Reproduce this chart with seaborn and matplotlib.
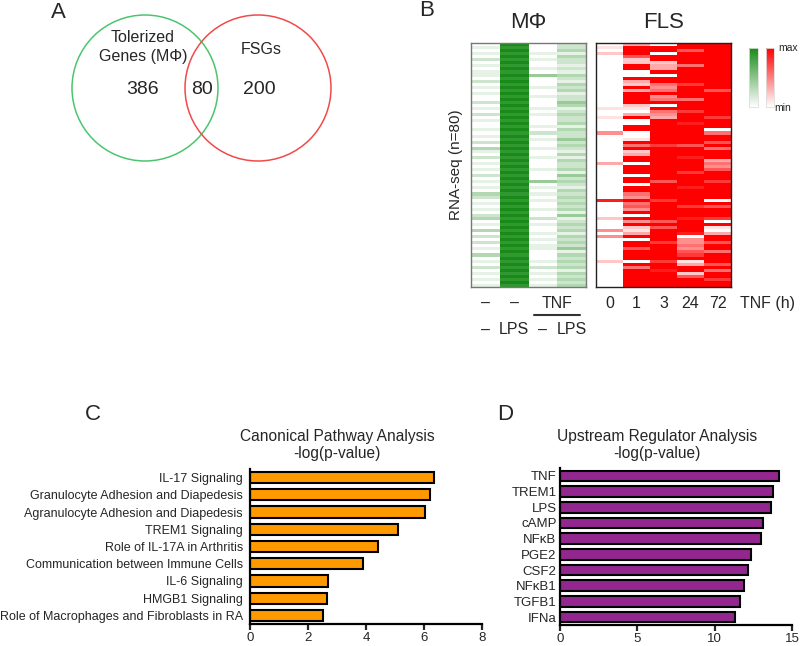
import numpy as np
import pandas as pd
import matplotlib
matplotlib.use("Agg")
import matplotlib.pyplot as plt
import seaborn as sns
from matplotlib.patches import Circle
from matplotlib.colors import LinearSegmentedColormap
from matplotlib.colorbar import ColorbarBase

# ---- data ----
# Venn (panel A)
venn_sets = ["Tolerized\nGenes (M\u03a6)", "FSGs"]
venn_counts = [386, 80, 200]   # only MΦ, overlap, only FSGs

# Heatmaps (panel B): one string per column, one digit per gene row (0=min, 9=max)
mph_cols = ["\u2013\n\u2013", "\u2013\nLPS", "TNF\n\u2013", "TNF\nLPS"]
mph_rows = [
    "0101020101" "1020101002" "0102010010" "1020310201" "0102010103" "2010102301" "0302020103" "0102010101",
    "9898989898" "9898989898" "9898989898" "9898989898" "9898989898" "9898989898" "9898989898" "9898989898",
    "0001010010" "4000100100" "0101000102" "0100100100" "0100040101" "0100100201" "0010101100" "0102010101",
    "2231322121" "3213231224" "3123223132" "2423213132" "2314232132" "3232314123" "2313232413" "2323132323",
]
fls_hours = ["0", "1", "3", "24", "72"]
fls_rows = [
    "0102000000" "0000000000" "0100100004" "0000000003" "0000000000" "0800000200" "0404000000" "0200000000",
    "3999622990" "0932939999" "2103900990" "0195923990" "9990990995" "4956490949" "2139099699" "9095999999",
    "0990992339" "0995459459" "0954399999" "9997999999" "9999969999" "9799999969" "6999979999" "9799899999",
    "9969999599" "9997999959" "9979998999" "9996999899" "9979999899" "9997999899" "9980445467" "9139926999",
    "9999999999" "9999969999" "9999799905" "9969599935" "4699979999" "9096999709" "1039969959" "9969599799",
]

# Canonical pathways (panel C)
pathways = ["IL-17 Signaling", "Granulocyte Adhesion and Diapedesis",
            "Agranulocyte Adhesion and Diapedesis", "TREM1 Signaling",
            "Role of IL-17A in Arthritis", "Communication between Immune Cells",
            "IL-6 Signaling", "HMGB1 Signaling",
            "Role of Macrophages and Fibroblasts in RA"]
pathway_logp = [6.34, 6.21, 6.05, 5.09, 4.40, 3.89, 2.70, 2.64, 2.51]

# Upstream regulators (panel D)
regulators = ["TNF", "TREM1", "LPS", "cAMP", "NF\u03baB", "PGE2", "CSF2",
              "NF\u03baB1", "TGFB1", "IFNa"]
regulator_logp = [14.14, 13.75, 13.62, 13.12, 12.97, 12.33, 12.13, 11.90, 11.64, 11.31]

# ---- style ----
sns.set_style("white")
plt.rcParams["font.family"] = ["Liberation Sans", "DejaVu Sans"]

W, H = 800, 646
fig = plt.figure(figsize=(W / 100, H / 100), dpi=100)


def px_axes(l, t, r, b):
    return fig.add_axes([l / W, 1 - b / H, (r - l) / W, (b - t) / H])


def px_text(x, y, s, **kw):
    fig.text(x / W, 1 - y / H, s, **kw)


# ---- panel letters ----
for letter, x, y in [("A", 58, 12), ("B", 427, 11), ("C", 93, 415), ("D", 505, 415)]:
    px_text(x, y, letter, fontsize=16, ha="center", va="center")

# ---- A: Venn ----
ax_a = px_axes(0, 0, 400, 200)
ax_a.set_xlim(0, 400)
ax_a.set_ylim(200, 0)
ax_a.axis("off")
ax_a.add_patch(Circle((145, 88), 73, fill=False, ec="#4CC56E", lw=1.1))
ax_a.add_patch(Circle((258, 88), 73, fill=False, ec="#F04A4A", lw=1.1))
for k, line in enumerate(venn_sets[0].split("\n")):
    ax_a.text(143, 38 + 19 * k, line, fontsize=11.5, ha="center", va="center")
ax_a.text(261, 50, venn_sets[1], fontsize=11.5, ha="center", va="center")
for x, n in zip([143, 202, 259], venn_counts):
    ax_a.text(x, 89, str(n), fontsize=14, ha="center", va="center")

# ---- B: heatmaps ----
green = LinearSegmentedColormap.from_list("g", ["white", "#188A18"])
red = LinearSegmentedColormap.from_list("r", ["white", "#FF0000"])

mph = pd.DataFrame(np.array([[int(c) for c in s] for s in mph_rows]).T)
fls = pd.DataFrame(np.array([[int(c) for c in s] for s in fls_rows]).T, columns=fls_hours)

ax_m = px_axes(471, 43, 586, 287)
sns.heatmap(mph, cmap=green, vmin=0, vmax=9, cbar=False,
            xticklabels=False, yticklabels=False, ax=ax_m)
ax_f = px_axes(596, 43, 731, 287)
sns.heatmap(fls, cmap=red, vmin=0, vmax=9, cbar=False,
            xticklabels=False, yticklabels=False, ax=ax_f)
for ax, ec in [(ax_m, "#777777"), (ax_f, "#222222")]:
    for sp in ax.spines.values():
        sp.set_visible(True)
        sp.set_edgecolor(ec)
        sp.set_linewidth(1.0)

ax_m.text(0.5, 1.086, "M\u03a6", transform=ax_m.transAxes, fontsize=16, ha="center", va="center")
ax_f.text(0.5, 1.086, "FLS", transform=ax_f.transAxes, fontsize=16, ha="center", va="center")
ax_m.text(-0.13, 0.5, "RNA-seq (n=80)", transform=ax_m.transAxes, fontsize=11,
          rotation=90, ha="center", va="center")

tr = ax_m.get_xaxis_transform()
for i, lab in enumerate(mph_cols):
    top, bottom = lab.split("\n")
    if i < 2:
        ax_m.text(i + 0.5, -0.066, top, transform=tr, fontsize=11.5, ha="center", va="center")
    ax_m.text(i + 0.5, -0.176, bottom, transform=tr, fontsize=11.5, ha="center", va="center")
ax_m.text(3.0, -0.066, "TNF", transform=tr, fontsize=11.5, ha="center", va="center")
ax_m.plot([2.2, 3.8], [-0.115, -0.115], transform=tr, color="#333333", lw=1.5, clip_on=False)

trf = ax_f.get_xaxis_transform()
for i, lab in enumerate(fls_hours):
    ax_f.text(i + 0.5, -0.066, lab, transform=trf, fontsize=11.5, ha="center", va="center")
ax_f.text(6.37, -0.066, "TNF (h)", transform=trf, fontsize=11.5, ha="center", va="center")

# color keys
for (l, r), cmap in [((749, 758), green), ((766, 774), red)]:
    cax = px_axes(l, 48, r, 107)
    cb = ColorbarBase(cax, cmap=cmap, orientation="vertical")
    cb.set_ticks([])
    cb.outline.set_edgecolor("#dddddd")
    cb.outline.set_linewidth(0.6)
px_text(778, 48, "max", fontsize=7.5, ha="left", va="center")
px_text(774, 108, "min", fontsize=7.5, ha="left", va="center")


# ---- C / D: bar charts ----
def bar_panel(ax, names, vals, color, xmax, ticks, width, ypad, yfs):
    sns.barplot(x=vals, y=names, color=color, edgecolor="black", linewidth=1.5,
                width=width, saturation=1, ax=ax)
    ax.set_xlim(0, xmax)
    ax.set_xticks(ticks)
    ax.set_xlabel("")
    ax.set_ylabel("")
    sns.despine(ax=ax)
    for s in ["left", "bottom"]:
        ax.spines[s].set_linewidth(1.6)
        ax.spines[s].set_color("black")
    ax.tick_params(axis="x", direction="out", length=4, width=1.6, pad=1.5, labelsize=9.5,
                   bottom=True)
    ax.tick_params(axis="y", length=0, pad=ypad, labelsize=yfs)


ax_c = px_axes(250, 469, 482, 624)
bar_panel(ax_c, pathways, pathway_logp, "#FF9900", 8, [0, 2, 4, 6, 8], 0.65, 5, 9)
px_text(337, 445, "Canonical Pathway Analysis\n-log(p-value)", fontsize=11.2,
        ha="center", va="center", linespacing=1.1)

ax_d = px_axes(560, 468, 792, 625)
bar_panel(ax_d, regulators, regulator_logp, "#93278F", 15, [0, 5, 10, 15], 0.68, 2.5, 9.5)
px_text(657, 445, "Upstream Regulator Analysis\n-log(p-value)", fontsize=11.2,
        ha="center", va="center", linespacing=1.1)

fig.savefig("out.png", dpi=100)
